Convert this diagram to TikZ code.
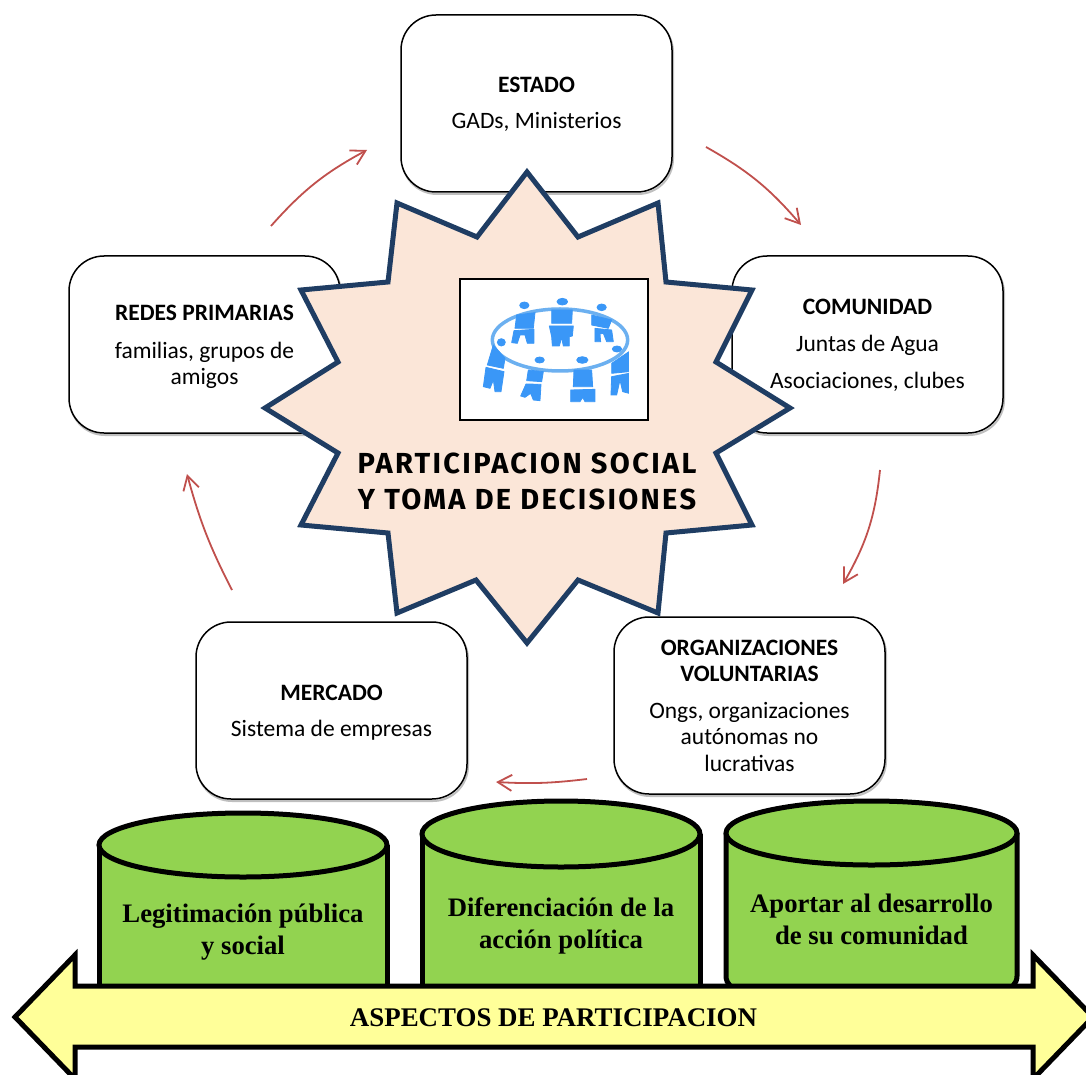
\documentclass[tikz,border=0pt]{standalone}
\usepackage{fontspec}
\setmainfont{Carlito}
\newfontfamily\serifb{Liberation Serif}[Scale=1]
\newfontfamily\starfont{Fira Sans}[LetterSpace=8]
\usetikzlibrary{arrows.meta}
\definecolor{starfill}{HTML}{FBE6D8}
\definecolor{starline}{HTML}{1F3D63}
\definecolor{cylfill}{HTML}{92D350}
\definecolor{arrfill}{HTML}{FFFF99}
\definecolor{redarrow}{HTML}{C0504D}
\definecolor{peopleblue}{HTML}{3A97F7}
\definecolor{ringblue}{HTML}{6CB0F0}
\tikzset{
  x=1pt,y=-1pt,
  roundbox/.style={draw=black,line width=1.5pt,fill=white,rounded corners=35pt},
  boxshadow/.style={draw=black!25,line width=2pt,rounded corners=35pt},
  boxtext/.style={align=center,font=\fontsize{23.5}{36}\selectfont},
  cyl/.style={draw=black,line width=5pt,fill=cylfill},
  cyltext/.style={align=center,font=\serifb\bfseries\fontsize{26.7}{32}\selectfont},
  flow/.style={draw=redarrow,line width=1.8pt,-{Straight Barb[length=14pt,width=16pt,line width=1.8pt]}},
  person/.style={fill=peopleblue,draw=peopleblue,line width=0.8pt,line join=round}
}
\begin{document}
\begin{tikzpicture}
\useasboundingbox (0,0) rectangle (1086,1075);
\clip (0,0) rectangle (1086,1075);
% boxes
\foreach \x/\y in {401/15,69/256,732/256,196/622,614/617}{
  \draw[boxshadow] (\x+1,\y+2) rectangle ++(271,177);
  \draw[roundbox] (\x,\y) rectangle ++(271,177);
}
\node[boxtext] (estado) at (536.5,104) {\textbf{ESTADO}\\GADs, Ministerios};
\node[boxtext,font=\fontsize{23.5}{26}\selectfont] (redes) at (204.5,347) {\textbf{REDES PRIMARIAS}\\[12pt]familias, grupos de\\amigos};
\node[boxtext,font=\fontsize{23.5}{37}\selectfont] (comunidad) at (867.5,345.5) {\textbf{COMUNIDAD}\\Juntas de Agua\\Asociaciones, clubes};
\node[boxtext] (mercado) at (331.5,712.5) {\textbf{MERCADO}\\Sistema de empresas};
\node[boxtext,font=\fontsize{23.5}{26.5}\selectfont] (voluntarias) at (749.5,705.5) {\textbf{ORGANIZACIONES}\\\textbf{VOLUNTARIAS}\\[10pt]Ongs, organizaciones\\autónomas no\\lucrativas};
% flow arrows
\coordinate (a1) at (271,226); \coordinate (b1) at (367,150);
\coordinate (a2) at (706,147); \coordinate (b2) at (801,225);
\coordinate (a3) at (880,470); \coordinate (b3) at (843,584);
\coordinate (a4) at (587,779); \coordinate (b4) at (496,782);
\coordinate (a5) at (232,590); \coordinate (b5) at (187,474);
\draw[flow] (a1) to[bend left=10] (b1);
\draw[flow] (a2) to[bend left=10] (b2);
\draw[flow] (a3) to[bend left=12] (b3);
\draw[flow] (a4) to[bend left=5] (b4);
\draw[flow] (a5) to[bend left=6] (b5);
% star
\draw[draw=starline,fill=starfill,line width=5pt,miter limit=10,line join=miter]
 (527,172)--(578,237)--(658,203)--(666,282)--(752,290)--(716,362)--(790,408)--(716,453)--(752,525)--(666,533)--(658,613)--(578,580)--(527,643)--(476,580)--(397,613)--(388,533)--(301,525)--(338,453)--(265,408)--(338,362)--(301,290)--(388,282)--(397,203)--(477,237)--cycle;
% picture
\draw[draw=black,line width=1.2pt,fill=white] (460,279) rectangle (648,420);
\begin{scope}[shift={(440,260)},x=0.3333pt,y=-0.3333pt]
  \draw[ringblue,line width=3.5pt] (360,240) ellipse [x radius=203,y radius=93];
  \clip (118,80) rectangle (567,450);
  \fill[person] (253,136) ellipse [x radius=14,y radius=10];
  \filldraw[person] (230,165)--(285,158)--(280,205)--(225,205)--cycle;
  \filldraw[person] (222,212)--(282,208)--(282,250)--(262,250)--(255,225)--(240,225)--(232,250)--(215,248)--cycle;
  \fill[person] (367,125) ellipse [x radius=16,y radius=10];
  \filldraw[person] (335,150)--(397,150)--(395,190)--(335,190)--cycle;
  \filldraw[person] (328,198)--(400,198)--(397,228)--(388,230)--(388,258)--(370,258)--(365,232)--(358,258)--(337,258)--(335,230)--cycle;
  \fill[person] (485,142) ellipse [x radius=14,y radius=10];
  \filldraw[person] (455,165)--(515,180)--(505,205)--(455,195)--cycle;
  \filldraw[person] (465,205)--(515,210)--(520,245)--(500,245)--(490,220)--(480,222)--(482,245)--(465,245)--cycle;
  \fill[person] (184,247) ellipse [x radius=12,y radius=11];
  \filldraw[person] (160,255)--(195,295)--(190,325)--(142,315)--cycle;
  \filldraw[person] (138,322)--(192,335)--(183,395)--(165,395)--(160,360)--(150,385)--(130,380)--cycle;
  \fill[person] (299,300) ellipse [x radius=14,y radius=9];
  \filldraw[person] (265,330)--(310,335)--(305,365)--(260,362)--cycle;
  \filldraw[person] (258,372)--(303,373)--(300,422)--(280,420)--(272,400)--(255,412)--(242,408)--cycle;
  \fill[person] (427,300) ellipse [x radius=17,y radius=10];
  \filldraw[person] (402,330)--(455,330)--(458,380)--(400,380)--cycle;
  \filldraw[person] (392,390)--(465,388)--(465,425)--(435,425)--(428,412)--(420,425)--(392,425)--cycle;
  \fill[person] (531,267) ellipse [x radius=14,y radius=9];
  \filldraw[person] (515,310)--(567,275)--(567,335)--(515,340)--cycle;
  \filldraw[person] (515,350)--(567,340)--(567,400)--(548,395)--(540,360)--(530,405)--(513,405)--cycle;
\end{scope}
\node[align=center,font=\starfont\bfseries\fontsize{29}{36}\selectfont] (central) at (527,481) {PARTICIPACION SOCIAL\\Y TOMA DE DECISIONES};
% cylinders
\draw[cyl] (99,845) -- (99,1000) -- (387,1000) -- (387,845);
\draw[cyl] (243,845) ellipse [x radius=144,y radius=32];
\draw[cyl] (422,834) -- (422,1000) -- (700,1000) -- (700,834);
\draw[cyl] (561,834) ellipse [x radius=139,y radius=33];
\draw[cyl,rounded corners=14pt] (726,833) -- (726,990) -- (1017,990) -- (1017,833);
\draw[cyl] (871.5,833) ellipse [x radius=145.5,y radius=32];
\node[cyltext] (legit) at (243,932.5) {Legitimación pública\\y social};
\node[cyltext] (difer) at (561,926) {Diferenciación de la\\acción política};
\node[cyltext] (aportar) at (871.5,919) {Aportar al desarrollo\\de su comunidad};
% double arrow
\draw[draw=black,fill=arrfill,line width=5pt,miter limit=10]
 (15,1017)--(75,955)--(75,986)--(1033,986)--(1033,955)--(1093,1017)--(1033,1079)--(1033,1047)--(75,1047)--(75,1079)--cycle;
\node[font=\serifb\bfseries\fontsize{26.9}{30}\selectfont] (aspectos) at (553.5,1018) {ASPECTOS DE PARTICIPACION};
\end{tikzpicture}
\end{document}
